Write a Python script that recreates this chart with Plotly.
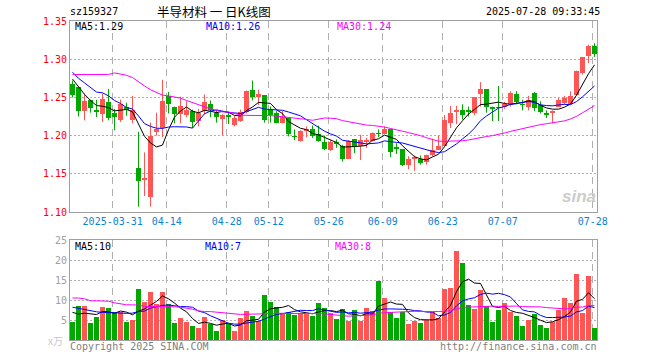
import pandas as pd
import plotly.graph_objects as go

# ---------------- data ----------------
dates = ["2025-03-20", "2025-03-21", "2025-03-24", "2025-03-25", "2025-03-26", "2025-03-27", "2025-03-28",
         "2025-03-31", "2025-04-01", "2025-04-02", "2025-04-03", "2025-04-07", "2025-04-08", "2025-04-09",
         "2025-04-10", "2025-04-11", "2025-04-14", "2025-04-15", "2025-04-16", "2025-04-17", "2025-04-18",
         "2025-04-21", "2025-04-22", "2025-04-23", "2025-04-24", "2025-04-25", "2025-04-28", "2025-04-29",
         "2025-04-30", "2025-05-06", "2025-05-07", "2025-05-08", "2025-05-09", "2025-05-12", "2025-05-13",
         "2025-05-14", "2025-05-15", "2025-05-16", "2025-05-19", "2025-05-20", "2025-05-21", "2025-05-22",
         "2025-05-23", "2025-05-26", "2025-05-27", "2025-05-28", "2025-05-29", "2025-05-30", "2025-06-03",
         "2025-06-04", "2025-06-05", "2025-06-06", "2025-06-09", "2025-06-10", "2025-06-11", "2025-06-12",
         "2025-06-13", "2025-06-16", "2025-06-17", "2025-06-18", "2025-06-19", "2025-06-20", "2025-06-23",
         "2025-06-24", "2025-06-25", "2025-06-26", "2025-06-27", "2025-06-30", "2025-07-01", "2025-07-02",
         "2025-07-03", "2025-07-04", "2025-07-07", "2025-07-08", "2025-07-09", "2025-07-10", "2025-07-11",
         "2025-07-14", "2025-07-15", "2025-07-16", "2025-07-17", "2025-07-18", "2025-07-21", "2025-07-22",
         "2025-07-23", "2025-07-24", "2025-07-25", "2025-07-28"]

opens = [1.268, 1.263, 1.232, 1.246, 1.234, 1.228, 1.244, 1.229, 1.220, 1.238,
         1.220, 1.157, 1.142, 1.120, 1.205, 1.210, 1.252, 1.238, 1.228, 1.227,
         1.232, 1.219, 1.232, 1.241, 1.229, 1.222, 1.227, 1.214, 1.219, 1.231,
         1.260, 1.251, 1.253, 1.234, 1.229, 1.217, 1.223, 1.200, 1.193, 1.206,
         1.209, 1.202, 1.192, 1.181, 1.192, 1.187, 1.170, 1.195, 1.186, 1.192,
         1.193, 1.203, 1.202, 1.209, 1.185, 1.182, 1.162, 1.170, 1.170, 1.165,
         1.174, 1.181, 1.187, 1.217, 1.231, 1.234, 1.233, 1.229, 1.254, 1.261,
         1.238, 1.238, 1.237, 1.241, 1.255, 1.242, 1.238, 1.256, 1.240, 1.230,
         1.229, 1.238, 1.243, 1.242, 1.253, 1.282, 1.304, 1.317]

highs = [1.272, 1.264, 1.255, 1.247, 1.247, 1.255, 1.261, 1.235, 1.247, 1.243,
         1.252, 1.205, 1.178, 1.217, 1.230, 1.273, 1.257, 1.238, 1.251, 1.245,
         1.234, 1.235, 1.254, 1.246, 1.233, 1.228, 1.230, 1.226, 1.234, 1.259,
         1.272, 1.260, 1.253, 1.238, 1.232, 1.232, 1.223, 1.208, 1.207, 1.212,
         1.213, 1.213, 1.200, 1.194, 1.195, 1.188, 1.194, 1.195, 1.201, 1.197,
         1.204, 1.208, 1.212, 1.209, 1.190, 1.182, 1.173, 1.174, 1.174, 1.175,
         1.196, 1.200, 1.227, 1.239, 1.239, 1.241, 1.238, 1.250, 1.270, 1.261,
         1.238, 1.265, 1.244, 1.258, 1.258, 1.247, 1.252, 1.257, 1.245, 1.233,
         1.233, 1.249, 1.252, 1.258, 1.285, 1.303, 1.319, 1.321]

lows = [1.250, 1.225, 1.220, 1.230, 1.224, 1.218, 1.220, 1.207, 1.218, 1.226,
        1.216, 1.107, 1.121, 1.107, 1.200, 1.198, 1.229, 1.216, 1.216, 1.224,
        1.210, 1.212, 1.228, 1.224, 1.217, 1.200, 1.215, 1.212, 1.218, 1.229,
        1.246, 1.240, 1.217, 1.217, 1.216, 1.216, 1.199, 1.194, 1.192, 1.198,
        1.197, 1.192, 1.181, 1.180, 1.184, 1.166, 1.170, 1.177, 1.168, 1.184,
        1.192, 1.198, 1.202, 1.172, 1.176, 1.160, 1.156, 1.154, 1.162, 1.162,
        1.173, 1.181, 1.186, 1.210, 1.215, 1.221, 1.225, 1.227, 1.238, 1.230,
        1.219, 1.219, 1.235, 1.238, 1.241, 1.233, 1.233, 1.232, 1.229, 1.223,
        1.216, 1.238, 1.241, 1.241, 1.252, 1.280, 1.295, 1.303]

closes = [1.253, 1.232, 1.245, 1.236, 1.231, 1.248, 1.223, 1.224, 1.242, 1.234,
          1.233, 1.141, 1.145, 1.199, 1.208, 1.245, 1.241, 1.228, 1.239, 1.234,
          1.218, 1.230, 1.244, 1.234, 1.224, 1.227, 1.224, 1.223, 1.231, 1.259,
          1.250, 1.254, 1.221, 1.227, 1.217, 1.225, 1.202, 1.198, 1.206, 1.208,
          1.200, 1.193, 1.182, 1.191, 1.189, 1.170, 1.193, 1.185, 1.194, 1.194,
          1.204, 1.202, 1.209, 1.178, 1.182, 1.162, 1.169, 1.171, 1.164, 1.175,
          1.181, 1.187, 1.220, 1.229, 1.234, 1.227, 1.231, 1.250, 1.261, 1.237,
          1.235, 1.236, 1.241, 1.256, 1.244, 1.240, 1.247, 1.236, 1.231, 1.227,
          1.232, 1.247, 1.249, 1.252, 1.284, 1.303, 1.317, 1.307]

# volume in 10k (万)
volumes = [4.50, 8.58, 8.58, 4.33, 5.86, 8.32, 8.07, 6.88, 7.05, 4.50,
           5.01, 12.65, 9.59, 11.88, 9.08, 11.88, 9.08, 4.25, 5.52, 4.50,
           3.49, 2.98, 5.78, 4.00, 2.21, 5.01, 4.00, 2.21, 5.52, 7.30,
           6.03, 4.76, 11.37, 9.59, 8.32, 6.79, 7.05, 6.28, 6.79, 6.62,
           6.03, 9.34, 8.07, 6.71, 5.35, 7.81, 4.76, 7.56, 4.76, 8.07,
           7.22, 14.68, 10.61, 6.88, 5.52, 6.88, 3.99, 4.76, 4.25, 5.01,
           7.05, 5.52, 12.65, 12.99, 22.32, 19.26, 8.83, 7.81, 12.39, 8.40,
           4.50, 7.56, 9.34, 7.05, 5.95, 3.49, 5.01, 6.54, 3.74, 2.98,
           4.50, 7.56, 10.61, 9.34, 16.46, 6.79, 15.95, 2.98]

# moving-average values at the start of the window (depend on sessions before it)
ma5_head = [1.274, 1.264, 1.254, 1.246]
ma10_head = [1.283, 1.275, 1.269, 1.263, 1.257, 1.256, 1.252, 1.246, 1.242]
ma30_head = [1.280, 1.280, 1.280, 1.280, 1.280, 1.280, 1.280, 1.282, 1.281, 1.279,
             1.276, 1.270, 1.265, 1.260, 1.256, 1.253, 1.252, 1.251, 1.249, 1.246,
             1.243, 1.240, 1.237, 1.235, 1.233, 1.231, 1.231, 1.229, 1.227]
vma5_head = [6.9, 6.5, 6.7, 6.6]
vma10_head = [8.2, 7.9, 7.6, 7.3, 7.05, 6.9, 6.8, 6.7, 6.6]
vma30_head = [10.5, 10.5, 10.3, 9.8, 9.8, 9.8, 9.7, 9.3, 9.1, 8.8,
              8.8, 8.7, 8.4, 8.4, 8.4, 8.4, 8.3, 8.3, 8.2, 8.0,
              7.7, 7.3, 7.1, 7.1, 6.96, 6.7, 6.5, 6.4, 6.4]

tick_dates = ["2025-03-31", "2025-04-14", "2025-04-28", "2025-05-12", "2025-05-26",
              "2025-06-09", "2025-06-23", "2025-07-07", "2025-07-28"]
tick_labels = ["2025-03-31", "04-14", "04-28", "05-12", "05-26", "06-09", "06-23", "07-07", "07-28"]
price_ticks = [1.10, 1.15, 1.20, 1.25, 1.30, 1.35]
vol_ticks = [5, 10, 15, 20, 25]

code = "sz159327"
title = "半导材料 一 日K线图"
stamp = "2025-07-28 09:33:45"
ma_labels = ["MA5:1.29", "MA10:1.26", "MA30:1.24"]
vma_labels = ["MA5:10", "MA10:7", "MA30:8"]

# ---------------- helpers ----------------
RED = "#ff5555"
GREEN = "#00a800"
MONO = "DejaVu Sans Mono"
W, H = 660, 360
L, R, T, B = 70, 63, 21, 20
PW, PH = W - L - R, H - T - B


def px(x):
    return (x - L) / PW


def py(y):
    return (H - B - y) / PH


def moving(values, n, head):
    out = pd.Series(values).rolling(n).mean().tolist()
    out[:len(head)] = head
    return out


idx = list(range(len(dates)))
up = [c >= o for o, c in zip(opens, closes)]
colors = [RED if u else GREEN for u in up]

fig = go.Figure()

# wicks
for flag, col in ((True, RED), (False, GREEN)):
    xs, ys = [], []
    for i in idx:
        if up[i] == flag:
            xs += [i, i, None]
            ys += [lows[i], highs[i], None]
    fig.add_trace(go.Scatter(x=xs, y=ys, mode="lines", line=dict(color=col, width=1),
                             hoverinfo="skip", showlegend=False, xaxis="x", yaxis="y"))

# bodies
body_base = [min(o, c) for o, c in zip(opens, closes)]
body_h = [max(abs(c - o), 0.0014) for o, c in zip(opens, closes)]
fig.add_trace(go.Bar(x=idx, y=body_h, base=body_base, width=0.83,
                     marker=dict(color=colors, line=dict(width=0)),
                     showlegend=False, xaxis="x", yaxis="y"))

# price moving averages
for vals, n, head, col in ((closes, 5, ma5_head, "#000000"),
                           (closes, 10, ma10_head, "#0000ff"),
                           (closes, 30, ma30_head, "#ff00ff")):
    fig.add_trace(go.Scatter(x=idx, y=moving(vals, n, head), mode="lines",
                             line=dict(color=col, width=1), showlegend=False,
                             xaxis="x", yaxis="y"))

# volume
fig.add_trace(go.Bar(x=idx, y=volumes, width=0.83,
                     marker=dict(color=colors, line=dict(width=0)),
                     showlegend=False, xaxis="x2", yaxis="y2"))
for vals, n, head, col in ((volumes, 5, vma5_head, "#000000"),
                           (volumes, 10, vma10_head, "#0000ff"),
                           (volumes, 30, vma30_head, "#ff00ff")):
    fig.add_trace(go.Scatter(x=idx, y=moving(vals, n, head), mode="lines",
                             line=dict(color=col, width=1), showlegend=False,
                             xaxis="x2", yaxis="y2"))

tick_pos = [dates.index(d) - 0.3 for d in tick_dates]
xr = [-2.5 / 6, (597 - 72.5) / 6]

grid_common = dict(showline=True, mirror=True, linecolor="#a0a0a0", linewidth=1,
                   zeroline=False, ticks="", fixedrange=True)

fig.update_layout(
    width=W, height=H, margin=dict(l=L, r=R, t=T, b=B),
    paper_bgcolor="white", plot_bgcolor="white", bargap=0, barmode="overlay",
    font=dict(family=MONO, size=10, color="#000"),
    xaxis=dict(domain=[0, 1], range=xr, anchor="y", tickmode="array", tickvals=tick_pos,
               ticktext=tick_labels, tickfont=dict(family=MONO, size=10, color="#0a84d4"),
               showgrid=True, gridcolor="#b0b0b0", gridwidth=1, griddash="7px,5px",
               **grid_common),
    yaxis=dict(domain=[(H - B - 212) / PH, 1], range=[1.10, 1.35], anchor="x",
               tickmode="array", tickvals=price_ticks, ticktext=[f"{v:.2f}" for v in price_ticks],
               tickfont=dict(family=MONO, size=10, color="#ff0000"),
               showgrid=True, gridcolor="#b0b0b0", gridwidth=1, griddash="2px,2px",
               **grid_common),
    xaxis2=dict(domain=[0, 1], range=xr, anchor="y2", matches="x", tickmode="array",
                tickvals=tick_pos, showticklabels=False,
                showgrid=True, gridcolor="#b0b0b0", gridwidth=1, griddash="7px,5px",
                **grid_common),
    yaxis2=dict(domain=[0, (H - B - 240) / PH], range=[0, 25], anchor="x2",
                tickmode="array", tickvals=vol_ticks, ticktext=[str(v) for v in vol_ticks],
                tickfont=dict(family=MONO, size=10, color="#a0a0a0"),
                showgrid=True, gridcolor="#b0b0b0", gridwidth=1, griddash="2px,2px",
                **grid_common),
    showlegend=False,
)

ann = []


def text(s, x, y, color="#000", size=10, anchor="left", family=MONO, **kw):
    ann.append(dict(text=s, x=px(x), y=py(y), xref="paper", yref="paper",
                    xanchor=anchor, yanchor="middle", showarrow=False, borderpad=0,
                    font=dict(family=family, size=size, color=color), **kw))


text(code, 69, 12, size=10)
text(title, 214, 12, size=12.5, anchor="center", family="Noto Sans CJK SC")
text(stamp, 601, 12, size=10, anchor="right")
for s, x, c in zip(ma_labels, (74, 205, 336), ("#000000", "#0000ff", "#ff00ff")):
    text(s, x, 27, color=c)
for s, x, c in zip(vma_labels, (74, 204, 334), ("#000000", "#0000ff", "#ff00ff")):
    text(s, x, 246, color=c)
text("Copyright 2025 SINA.COM", 69, 346, color="#808080")
text("http://finance.sina.com.cn", 598, 346, color="#808080", anchor="right")
text("x万", 64, 341, color="#c8c8c8", size=10, anchor="right", family="Noto Sans CJK SC")
text("<b><i>sina</i></b>", 597, 196, color="#cccccc", size=17, anchor="right", family="Liberation Sans")

fig.update_layout(annotations=ann)
fig.write_html("out.html", config={"displayModeBar": False, "staticPlot": True},
               post_script="document.body.style.margin='0';")
